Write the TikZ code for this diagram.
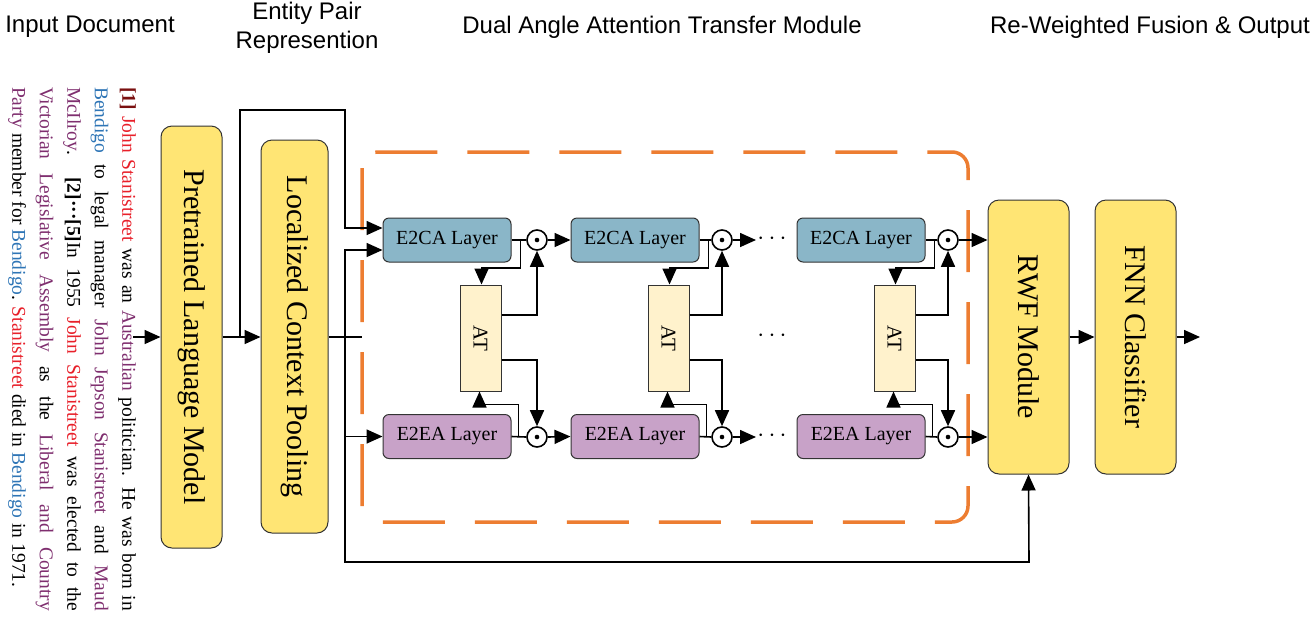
\documentclass[tikz,border=0pt]{standalone}
\usepackage{fontspec}
\setmainfont{Liberation Serif}
\newfontfamily\hdr{Liberation Sans}
\usetikzlibrary{arrows.meta}
\definecolor{ybox}{HTML}{FFE574}
\definecolor{cbox}{HTML}{8AB6C8}
\definecolor{ebox}{HTML}{C8A2C8}
\definecolor{atbox}{HTML}{FFF2CC}
\definecolor{orng}{HTML}{ED7D31}
\definecolor{tred}{HTML}{E8202A}
\definecolor{tblue}{HTML}{2E75B6}
\definecolor{tpur}{HTML}{7F2F6F}
\definecolor{tdark}{HTML}{7A1010}
\begin{document}
\begin{tikzpicture}[x=1pt,y=-1pt,
  conn/.style={line width=1.6pt},
  arr/.style={conn,-{Triangle[length=16pt,width=14pt]}},
  big/.style={draw=black!80,line width=1pt,fill=ybox,rounded corners=11pt,minimum width=#1,inner sep=0pt},
  layer/.style={draw=black!80,line width=1pt,rounded corners=6pt,minimum width=128pt,minimum height=44pt,inner sep=0pt,font=\fontsize{20}{22}\selectfont},
  atb/.style={draw=black!80,line width=1pt,fill=atbox,minimum width=41pt,minimum height=106pt,inner sep=0pt},
  od/.style={circle,draw,line width=1.6pt,minimum size=20pt,inner sep=0pt},
  hd/.style={font=\hdr\fontsize{24}{29}\selectfont,align=center},
  dots/.style={font=\bfseries\fontsize{28}{28}\selectfont}]
\useasboundingbox (0,0) rectangle (1316,622);
% headers
\node[hd] (h1) at (90,27) {Input Document};
\node[hd] (h2) at (307,28) {Entity Pair\\Represention};
\node[hd] (h3) at (662,27) {Dual Angle Attention Transfer Module};
\node[hd] (h4) at (1150,27) {Re-Weighted Fusion \& Output};
% document text
\node[rotate=-90,text width=524pt,align=justify,inner sep=0pt,font=\fontsize{19.5}{27.5}\selectfont] (doc) at (72,349) {%
\textcolor{tdark}{\textbf{[1]}} \textcolor{tred}{John Stanistreet} was an \textcolor{tpur}{Australian} politician. He was born in\linebreak
\textcolor{tblue}{Bendigo} to legal manager \textcolor{tpur}{John Jepson Stanistreet} and \textcolor{tpur}{Maud}\linebreak
\textcolor{tpur}{McIlroy}. \textbf{[2]···[5]}In 1955 \textcolor{tred}{John Stanistreet} was elected to the\linebreak
\textcolor{tpur}{Victorian Legislative Assembly} as the \textcolor{tpur}{Liberal and Country}\linebreak
\textcolor{tpur}{Party} member for \textcolor{tblue}{Bendigo}. \textcolor{tred}{Stanistreet} died in \textcolor{tblue}{Bendigo} in 1971.};
% dashed module
\draw[orng,line width=3.5pt,dash pattern=on 62pt off 30pt,rounded corners=16pt] (362,152) rectangle (968,522);
% main boxes
\node[big=61pt,minimum height=422pt] (plm) at (191.5,337) {\rotatebox{-90}{\fontsize{30}{34}\selectfont Pretrained Language Model}};
\node[big=67pt,minimum height=393pt] (lcp) at (294.5,336.5) {\rotatebox{-90}{\fontsize{30}{34}\selectfont Localized Context Pooling}};
\node[big=81pt,minimum height=274pt] (rwf) at (1028.5,337) {\rotatebox{-90}{\fontsize{30}{34}\selectfont RWF Module}};
\node[big=81pt,minimum height=274pt] (fnn) at (1135.5,337) {\rotatebox{-90}{\fontsize{30}{34}\selectfont FNN Classifier}};
\coordinate (in) at (133,337);
\coordinate (out) at (1200,337);
\draw[arr] (in) -- (plm.west |- in);
\draw[arr] (plm.east |- in) -- (lcp.west |- in);
\draw[arr] (rwf.east |- out) -- (fnn.west |- out);
\draw[arr] (fnn.east |- out) -- (out);
% layers
\foreach \i/\x/\ax in {1/447/480.5,2/635/668.5,3/861/894.5}{
  \node[layer,fill=cbox] (c\i) at (\x,240) {E2CA Layer};
  \node[layer,fill=ebox] (e\i) at (\x,436.5) {E2EA Layer};
  \node[atb] (a\i) at (\ax,338) {\rotatebox{-90}{\fontsize{21}{24}\selectfont AT}};
}
\foreach \i/\x in {1/537,2/722,3/948}{
  \node[od] (oc\i) at (\x,240) {};
  \fill (oc\i) circle (2.3pt);
  \node[od] (oe\i) at (\x,437) {};
  \fill (oe\i) circle (2.3pt);
}
\foreach \i in {1,2,3}{
  \draw[conn] (c\i.east) -- (oc\i.west);
  \draw[conn] (e\i.east) -- (oe\i.west);
  \draw[arr] ([xshift=9pt]c\i.east) |- ++(0,28) -| ([xshift=1pt]a\i.north);
  \draw[arr] ([xshift=7pt]e\i.east) |- ++(0,-32) -| ([xshift=-1pt]a\i.south);
  \draw[arr] ([yshift=23pt]a\i.east) -| (oc\i.south);
  \draw[arr] ([yshift=-22pt]a\i.east) -| (oe\i.north);
}
\draw[arr] (oc1.east) -- (c2.west);
\draw[arr] (oe1.east) -- (e2.west);
\coordinate (dc) at (756,240);
\coordinate (de) at (756,437);
\draw[arr] (oc2.east) -- (dc);
\draw[arr] (oe2.east) -- (de);
\node[dots] (d1) at (772,239) {$\cdots$};
\node[dots] (d2) at (772,436) {$\cdots$};
\node[dots] (d3) at (772,336) {$\cdots$};
\draw[arr] (oc3.east) -- (rwf.west |- oc3);
\draw[arr] (oe3.east) -- (rwf.west |- oe3);
% skip connections
\coordinate (b1) at (240,337);
\draw[arr] (b1) |- (345,110) |- ([yshift=12pt]c1.west);
\coordinate (b2) at (345,337);
\draw[conn] (lcp.east |- b2) -- (362,337);
\draw[arr] (b2) |- ([yshift=-10pt]c1.west);
\draw[arr] (b2) |- (e1.west);
\draw[arr] (b2) |- (1029,562) -- (rwf.south);
\end{tikzpicture}
\end{document}
